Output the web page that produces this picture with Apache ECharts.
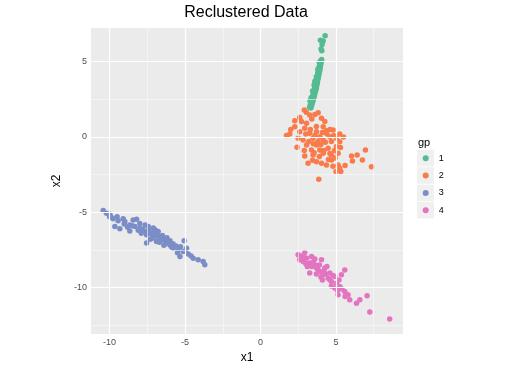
<!DOCTYPE html>
<html><head><meta charset="utf-8">
<script src="https://cdn.jsdelivr.net/npm/echarts@6/dist/echarts.min.js"></script>
<style>html,body{margin:0;padding:0;background:#fff}#c{width:512px;height:366px}</style>
</head><body><div id="c"></div>
<script>
const groups = ['1','2','3','4'];
const xTicks = [-10,-5,0,5];
const yTicks = [-10,-5,0,5];
const xMinor = [-7.5,-2.5,2.5,7.5];
const yMinor = [-12.5,-7.5,-2.5,2.5];

const gp1 = [[4.28,6.72],[3.97,6.42],[4.15,6.37],[4.08,6.15],[4.01,5.84],[4.06,5.73],
[4.05,5.15],[3.98,5.05],[4.02,4.92],[3.92,4.85],[3.97,4.72],[3.88,4.65],[3.95,4.55],[3.85,4.45],[3.92,4.38],[3.80,4.30],[3.88,4.20],[3.78,4.12],[3.85,4.05],[3.74,3.95],[3.82,3.88],[3.70,3.80],[3.78,3.72],[3.68,3.62],[3.76,3.55],[3.64,3.48],[3.72,3.40],[3.60,3.32],[3.70,3.25],[3.58,3.18],[3.66,3.10],[3.54,3.02],[3.62,2.95],[3.50,2.88],[3.58,2.80],[3.46,2.72],[3.55,2.65],[3.42,2.58],[3.50,2.50],[3.40,2.42],[3.47,2.35],[3.35,2.28],[3.42,2.20],[3.30,2.12],[3.38,2.05],[3.25,1.98],[3.33,1.92],[3.28,2.40],[3.60,3.70],[3.90,4.95],[3.70,4.00],[3.45,3.05],[3.35,2.60],[3.55,3.45],[3.80,4.50]];

const gp2 = [[3.03,1.64],[3.82,1.61],[3.26,1.46],[4.04,1.24],[4.26,1.02],[2.27,1.08],[2.72,1.02],[3.05,0.91],[2.27,0.68],[2.93,0.58],[4.15,0.68],[1.72,0.09],[1.94,0.2],[2.6,0.35],[3.26,0.25],[3.71,0.35],[4.37,0.42],[4.81,0.46],[5.25,0.2],[2.49,-0.09],[2.82,-0.2],[3.48,-0.09],[3.93,0.02],[4.15,-0.2],[4.59,0.02],[5.03,-0.09],[5.25,-0.31],[2.42,-0.68],[3.05,-0.53],[3.71,-0.53],[3.38,-0.86],[3.93,-0.86],[4.48,-0.75],[5.03,-0.64],[2.93,-1.26],[3.48,-1.19],[4.15,-1.08],[4.7,-1.19],[5.14,-1.08],[6.03,-1.26],[6.4,-1.19],[6.95,-0.86],[6.09,-1.59],[6.75,-1.53],[3.15,-1.75],[3.71,-1.64],[4.04,-1.75],[4.37,-1.86],[4.7,-1.53],[5.14,-1.86],[5.25,-2.08],[5.32,-2.3],[7.35,-1.97],[3.86,-2.81],
[3.6,0.1],[3.8,-0.3],[4.0,-0.5],[4.3,-0.35],[3.5,-0.45],[4.4,0.2],[4.7,-0.3],[4.9,-0.9],[3.2,-0.3],[4.2,-0.9],[4.6,-1.1],[3.9,-1.3],[4.5,-1.5],[3.3,0.5],[3.7,0.7],[4.6,0.5],[5.3,-0.7],[2.9,-0.9],[3.55,-1.05],[4.85,0.1],[4.1,0.3],[3.0,0.2],[2.6,1.3],[3.4,1.2],[2.9,1.8],[3.6,1.5],[2.0,0.5],[5.5,0.0],[4.95,-1.4],[5.6,-1.9],[3.45,-1.55],[4.8,-1.95],[5.0,-2.3]];

const gp3 = [[-10.42,-4.89],[-10.2,-5.06],[-9.98,-5.13],[-9.87,-5.35],[-9.76,-5.44],[-9.43,-5.57],[-9.65,-5.95],[-9.32,-6.1],[-9.1,-5.44],[-8.99,-5.62],[-9.03,-5.79],[-8.66,-5.84],[-8.44,-5.51],[-8.21,-5.46],[-8.66,-6.24],[-8.32,-5.95],[-7.99,-6.06],[-7.77,-6.28],[-7.44,-5.95],[-7.55,-6.5],[-7.22,-6.39],[-7.0,-6.17],[-6.78,-6.28],[-7.11,-6.72],[-6.67,-6.61],[-6.45,-6.83],[-7.55,-7.05],[-6.23,-7.05],[-6.0,-7.17],[-6.89,-6.95],[-5.79,-7.39],[-5.06,-6.9],[-5.46,-7.5],[-5.13,-7.61],[-5.34,-7.94],[-4.79,-7.78],[-4.46,-8.05],[-4.13,-8.16],[-3.8,-8.27],[-3.69,-8.49],
[-7.8,-6.15],[-7.6,-6.3],[-7.4,-6.2],[-7.2,-6.5],[-7.0,-6.45],[-6.8,-6.6],[-6.6,-6.8],[-6.5,-6.55],[-6.3,-6.9],[-6.2,-6.7],[-6.0,-6.9],[-5.8,-7.1],[-5.6,-7.25],[-5.9,-7.3],[-6.4,-7.2],[-7.9,-6.4],[-8.1,-6.2],[-7.3,-6.8],[-6.9,-6.25],[-7.65,-5.85],[-8.5,-5.9],[-8.8,-6.0],[-5.3,-7.3],[-5.0,-7.6],[-4.6,-7.9],[-6.7,-7.0],[-7.1,-6.05],[-8.0,-5.75],[-9.5,-5.3],[-10.0,-5.3],[-5.5,-7.7],[-4.9,-7.4]];

const gp4 = [[2.49,-7.83],[2.93,-7.68],[2.6,-8.16],[2.82,-8.27],[3.05,-8.05],[3.38,-7.94],[3.26,-8.38],[4.04,-8.16],[3.6,-8.49],[3.71,-8.71],[3.26,-9.04],[3.93,-8.94],[4.26,-8.71],[4.15,-9.16],[4.59,-9.04],[4.48,-9.38],[4.92,-9.27],[5.36,-9.16],[5.58,-8.83],[4.7,-9.6],[5.03,-9.71],[4.92,-10.04],[5.25,-9.93],[5.14,-10.48],[5.58,-10.27],[5.8,-10.48],[5.91,-10.82],[6.36,-11.04],[6.58,-10.82],[7.06,-10.55],[7.24,-11.63],[8.56,-12.1],
[3.1,-8.6],[3.4,-8.6],[3.5,-8.3],[3.8,-8.8],[4.0,-9.3],[4.3,-9.1],[4.4,-8.6],[4.6,-9.5],[4.8,-9.2],[3.7,-9.1],[3.0,-8.4],[2.7,-7.9],[2.9,-8.0],[4.1,-9.5],[5.1,-10.2],[5.4,-10.1],[5.6,-10.6],[5.2,-9.5],[3.6,-8.1],[4.2,-8.9],[4.7,-9.9],[3.9,-8.5]];

const colors = ['#55bb91','#f97a4a','#7b8dc6','#e274c0'];
const dataSets = [gp1, gp2, gp3, gp4];

const FONT = 'Liberation Sans, Arial, sans-serif';
const chart = echarts.init(document.getElementById('c'));

const gridSeries = {
  type: 'scatter', data: [], z: 1, silent: true,
  markLine: {
    silent: true, symbol: 'none', animation: false, label: {show: false},
    emphasis: {disabled: true},
    data: [
      ...xMinor.map(v => ({xAxis: v, lineStyle: {color: '#fafafa', width: 0.6, type: 'solid'}})),
      ...yMinor.map(v => ({yAxis: v, lineStyle: {color: '#fafafa', width: 0.6, type: 'solid'}})),
      ...xTicks.map(v => ({xAxis: v, lineStyle: {color: '#ffffff', width: 1.2, type: 'solid'}})),
      ...yTicks.map(v => ({yAxis: v, lineStyle: {color: '#ffffff', width: 1.2, type: 'solid'}}))
    ]
  }
};

const keyRects = groups.map((g, i) => ({
  type: 'rect', left: 417, top: 150 + i * 17.3, z: 0,
  shape: {width: 17, height: 16.5}, style: {fill: '#f0f0f0'}
}));

chart.setOption({
  animation: false,
  backgroundColor: '#ffffff',
  title: {text: 'Reclustered Data', left: 241, textAlign: 'center', top: 0,
    textStyle: {fontFamily: FONT, fontSize: 16, fontWeight: 'normal', color: '#000'}},
  grid: {left: 91, right: 109, top: 28, bottom: 32, show: true, backgroundColor: '#ebebeb', borderWidth: 0,
    outerBoundsMode: 'none', containLabel: false},
  xAxis: {
    type: 'value', min: -11.23, max: 9.44,
    name: 'x1', nameLocation: 'middle', nameGap: 17,
    nameTextStyle: {fontFamily: FONT, fontSize: 12, color: '#000'},
    axisLine: {show: false},
    axisTick: {show: true, length: 3, customValues: xTicks, lineStyle: {color: '#333', width: 1}},
    axisLabel: {customValues: xTicks, margin: 4, fontFamily: FONT, fontSize: 9, color: '#4d4d4d'},
    splitLine: {show: false}
  },
  yAxis: {
    type: 'value', min: -13.09, max: 7.24,
    name: 'x2', nameLocation: 'middle', nameGap: 15, nameRotate: 90,
    nameTextStyle: {fontFamily: FONT, fontSize: 12, color: '#000'},
    axisLine: {show: false},
    axisTick: {show: true, length: 3, customValues: yTicks, lineStyle: {color: '#333', width: 1}},
    axisLabel: {customValues: yTicks, margin: 4, fontFamily: FONT, fontSize: 9, color: '#4d4d4d'},
    splitLine: {show: false}
  },
  legend: {
    orient: 'vertical', left: 422.7, top: 152.3, itemGap: 5.3, padding: 0,
    icon: 'circle', itemWidth: 6, itemHeight: 6,
    data: groups,
    textStyle: {fontFamily: FONT, fontSize: 9, color: '#000', lineHeight: 12, padding: [0,0,0,5]},
    selectedMode: false
  },
  graphic: [
    {type: 'text', left: 418, top: 137, style: {text: 'gp', font: '11px ' + FONT, fill: '#000'}},
    ...keyRects
  ],
  series: [gridSeries, ...groups.map((g, i) => ({
    name: g, type: 'scatter', z: 3, data: dataSets[i], symbolSize: 5.5,
    itemStyle: {color: colors[i], opacity: 1}
  }))]
});
</script></body></html>
